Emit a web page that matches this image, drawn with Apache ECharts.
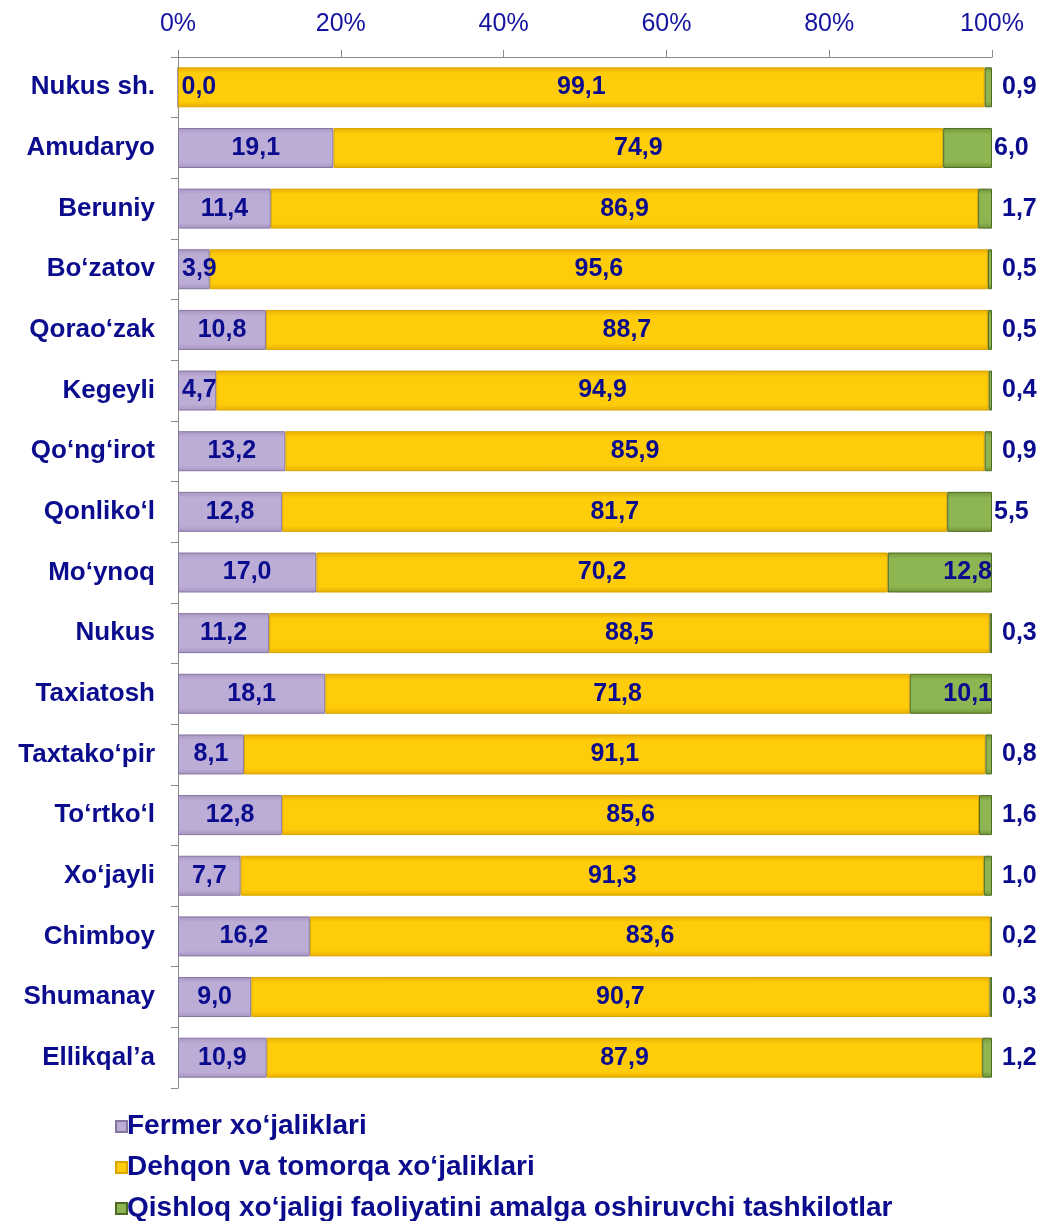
<!DOCTYPE html>
<html><head><meta charset="utf-8">
<script src="https://cdn.jsdelivr.net/npm/echarts@6/dist/echarts.min.js"></script>
<style>html,body{margin:0;padding:0;background:#fff}#c{width:1051px;height:1221px}</style>
</head><body><div id="c"></div>
<script>
const categories = ["Nukus sh.","Amudaryo","Beruniy","Bo‘zatov","Qorao‘zak","Kegeyli","Qo‘ng‘irot","Qonliko‘l","Mo‘ynoq","Nukus","Taxiatosh","Taxtako‘pir","To‘rtko‘l","Xo‘jayli","Chimboy","Shumanay","Ellikqal’a"];
const fermer = [0.0,19.1,11.4,3.9,10.8,4.7,13.2,12.8,17.0,11.2,18.1,8.1,12.8,7.7,16.2,9.0,10.9];
const dehqon = [99.1,74.9,86.9,95.6,88.7,94.9,85.9,81.7,70.2,88.5,71.8,91.1,85.6,91.3,83.6,90.7,87.9];
const qishloq = [0.9,6.0,1.7,0.5,0.5,0.4,0.9,5.5,12.8,0.3,10.1,0.8,1.6,1.0,0.2,0.3,1.2];
const seriesNames = ["Fermer xo‘jaliklari","Dehqon va tomorqa xo‘jaliklari","Qishloq xo‘jaligi faoliyatini amalga oshiruvchi tashkilotlar"];
const xTicks = [0,20,40,60,80,100];

const navy = '#0B0B8E';
const font = '"Liberation Sans",Arial,sans-serif';
const fmt = v => v.toFixed(1).replace('.', ',');
const lbl = {show:true, color:navy, fontWeight:'bold', fontSize:25, fontFamily:font, formatter:p=>fmt(p.value)};

function grad(a,b){return new echarts.graphic.LinearGradient(0,0,0,1,[{offset:0,color:a},{offset:0.15,color:b},{offset:0.85,color:b},{offset:1,color:a}]);}

const chart = echarts.init(document.getElementById('c'));
chart.setOption({
  animation:false,
  grid:{left:178,right:59,top:57,bottom:133},
  xAxis:{type:'value',position:'top',min:0,max:100,interval:20,
    axisLine:{show:true,lineStyle:{color:'#8a8a8a',width:1}},
    axisTick:{show:true,length:7,lineStyle:{color:'#8a8a8a'}},
    splitLine:{show:false},
    axisLabel:{formatter:v=>xTicks.includes(v)?v+'%':'',color:'#1414a0',fontSize:25,fontFamily:font,margin:20}},
  yAxis:{type:'category',inverse:true,data:categories,
    axisLine:{show:true,lineStyle:{color:'#8a8a8a'}},
    axisTick:{show:true,length:7,lineStyle:{color:'#8a8a8a'}},
    axisLabel:{color:navy,fontWeight:'bold',fontSize:26,fontFamily:font,margin:23}},
  legend:{orient:'vertical',left:110,top:1107,height:200,itemWidth:11,itemHeight:11,itemGap:12,icon:'rect',
    textStyle:{color:navy,fontWeight:'bold',fontSize:28,lineHeight:29,fontFamily:font,padding:[0,0,0,-5]},
    data:seriesNames},
  series:[
    {name:seriesNames[0],type:'bar',stack:'a',barWidth:40,
      itemStyle:{color:grad('#a695c0','#bcadd6'),borderColor:'#8676a2',borderWidth:1},
      data:fermer.map(v=>({value:v,label:Object.assign({},lbl,{position:v<6?'insideLeft':'inside',distance:4})}))},
    {name:seriesNames[1],type:'bar',stack:'a',barWidth:40,
      itemStyle:{color:grad('#e8ae00','#ffcc0a'),borderColor:'#d9a600',borderWidth:1},
      label:Object.assign({},lbl,{position:'inside'}),
      data:dehqon},
    {name:seriesNames[2],type:'bar',stack:'a',barWidth:40,
      itemStyle:{color:grad('#6f9436','#8db552'),borderColor:'#4f6a22',borderWidth:1},
      data:qishloq.map(v=>({value:v,label:Object.assign({},lbl,v>=10?{position:'insideRight',distance:0}:{position:'right',distance:v>=5?2:10})}))}
  ]
});
</script></body></html>
